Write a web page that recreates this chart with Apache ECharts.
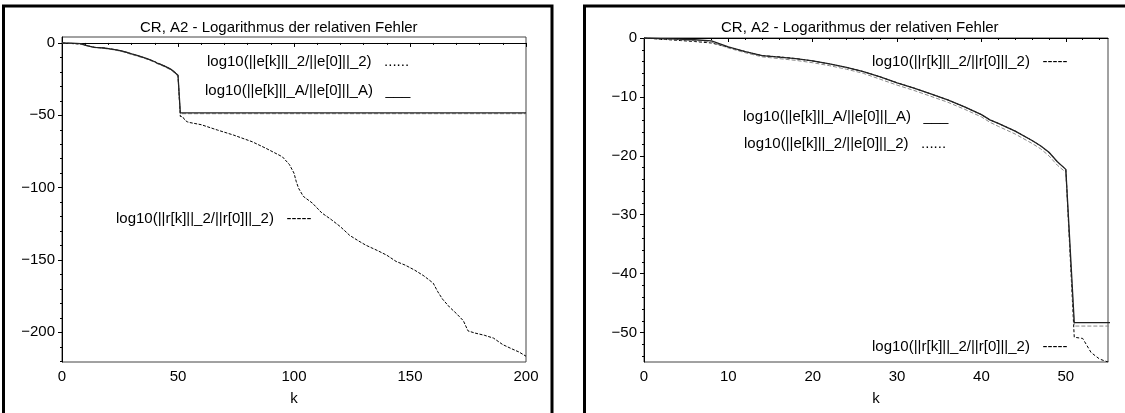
<!DOCTYPE html>
<html>
<head>
<meta charset="utf-8">
<script src="https://cdn.jsdelivr.net/npm/echarts@6/dist/echarts.min.js"></script>
<style>
  html, body { margin: 0; padding: 0; background: #fff; }
  #chart { width: 1125px; height: 413px; }
</style>
</head>
<body>
<div id="chart"></div>
<script>
// ---- data ----
const titleText = 'CR, A2 - Logarithmus der relativen Fehler';
const xName = 'k';

// error curves (A-norm and 2-norm), k values
const kE = [0,2,4,6,8,9,10,12,14,16,18,20,22,24,26,28,30,32,34,36,38,40,41,42,44,46,47,48,49,50,51,200];
const eA = [0,-0.1,-0.2,-0.3,-0.5,-1.0,-1.5,-2.3,-3.0,-3.25,-3.5,-3.9,-4.4,-5.0,-5.7,-6.6,-7.6,-8.5,-9.5,-10.5,-11.7,-13.0,-13.9,-14.5,-15.8,-17.4,-18.3,-19.4,-21.0,-22.3,-48.3,-48.3];
const e2 = [0,-0.15,-0.3,-0.45,-0.7,-1.2,-1.7,-2.5,-3.2,-3.5,-3.8,-4.2,-4.7,-5.3,-6.0,-7.0,-8.0,-8.9,-9.9,-10.9,-12.1,-13.4,-14.3,-15.0,-16.3,-17.9,-18.8,-20.0,-21.6,-22.8,-48.9,-48.9];

// residual curve
const kR = [0,2,4,6,8,9,10,12,14,16,18,20,22,24,26,28,30,32,34,36,38,40,41,42,44,46,47,48,49,50,51,52,53,54,55,60,67,74,82,88,95,98,100,101,102,104,108,112,116,120,124,128,131,136,140,144,148,152,156,160,162,164,167,170,173,175,178,182,186,190,194,197,200];
const rR = [0,-0.2,-0.4,-0.6,-0.85,-1.2,-1.6,-2.3,-3.0,-3.2,-3.5,-3.9,-4.4,-5.0,-5.7,-6.6,-7.6,-8.5,-9.5,-10.5,-11.7,-13.0,-13.9,-14.5,-15.8,-17.4,-18.3,-19.4,-21.0,-22.3,-50.8,-51.0,-53.4,-54.5,-55.0,-56.5,-60.2,-63.7,-68.3,-72.9,-78.7,-84,-90,-96,-100.5,-106,-110.8,-117.5,-122,-127,-133,-137,-139.8,-143.5,-146.7,-151,-153.6,-157,-161,-166,-172,-177,-182.5,-187,-192,-199,-200.5,-202,-204,-208.5,-211.5,-213.6,-216.5];

// legend labels
const legE2 = 'log10(||e[k]||_2/||e[0]||_2)   ......';
const legEA = 'log10(||e[k]||_A/||e[0]||_A)   ___';
const legR  = 'log10(||r[k]||_2/||r[0]||_2)   -----';

// tick values
const leftXMajor = [0,50,100,150,200];
const leftXMinor = [10,20,30,40,60,70,80,90,110,120,130,140,160,170,180,190];
const leftYMajor = [0,-50,-100,-150,-200];
const leftYMinor = [-10,-20,-30,-40,-60,-70,-80,-90,-110,-120,-130,-140,-160,-170,-180,-190,-210,-220];
const rightXMajor = [0,10,20,30,40,50];
const rightXMinor = [2,4,6,8,12,14,16,18,22,24,26,28,32,34,36,38,42,44,46,48,52,54];
const rightYMajor = [0,-10,-20,-30,-40,-50];
const rightYMinor = [-2,-4,-6,-8,-12,-14,-16,-18,-22,-24,-26,-28,-32,-34,-36,-38,-42,-44,-46,-48,-52,-54];

// ---- chart ----
const FONT = '"Liberation Sans", Arial, sans-serif';
const FS = 15;
const pairs = (ks, vs) => ks.map((k, i) => [k, vs[i]]);
const minusFmt = v => String(v).replace('-', '\u2212');

function xAxes(grid, min, max, major, minor, showName) {
  return [
    { type: 'value', gridIndex: grid, min: min, max: max, position: 'bottom',
      name: showName ? xName : '', nameLocation: 'middle', nameGap: 29,
      nameTextStyle: { fontSize: FS, color: '#000', fontFamily: FONT },
      axisLine: { show: true, lineStyle: { color: '#000', width: 1 } },
      axisTick: { show: true, customValues: major, length: 4, inside: false, lineStyle: { color: '#000' } },
      axisLabel: { show: true, customValues: major, margin: 7, fontSize: FS, color: '#000', fontFamily: FONT, formatter: minusFmt },
      splitLine: { show: false } },
    { type: 'value', gridIndex: grid, min: min, max: max, position: 'bottom',
      axisLine: { show: false },
      axisTick: { show: true, customValues: minor, length: 2, lineStyle: { color: '#000' } },
      axisLabel: { show: false }, splitLine: { show: false } }
  ];
}
function yAxes(grid, min, max, major, minor) {
  return [
    { type: 'value', gridIndex: grid, min: min, max: max, position: 'left',
      axisLine: { show: true, lineStyle: { color: '#000', width: 1 } },
      axisTick: { show: true, customValues: major, length: 4, lineStyle: { color: '#000' } },
      axisLabel: { show: true, customValues: major, margin: 7, fontSize: FS, color: '#000', fontFamily: FONT, formatter: minusFmt },
      splitLine: { show: false } },
    { type: 'value', gridIndex: grid, min: min, max: max, position: 'left', offset: 0,
      axisLine: { show: false },
      axisTick: { show: true, customValues: minor, length: 2, lineStyle: { color: '#000' } },
      axisLabel: { show: false }, splitLine: { show: false } }
  ];
}

const solid = { color: '#222', width: 1.3, type: 'solid' };
const dotted = { color: '#8a8a8a', width: 1, type: [4, 2] };
const dashedL = { color: '#000', width: 1, type: [3, 1.5] };
const dashedR = { color: '#000', width: 1, type: [3, 2] };

function ser(name, x, y, data, style) {
  return { name: name, type: 'line', xAxisIndex: x, yAxisIndex: y, data: data,
           showSymbol: false, symbol: 'none', lineStyle: style, clip: true,
           animation: false, silent: true, z: 2 };
}

function legendText(text, x, y) {
  return { type: 'text', x: x, y: y, silent: true, z: 10,
           style: { text: text, fill: '#000', font: FS + 'px ' + FONT, verticalAlign: 'middle' } };
}

const option = {
  backgroundColor: '#fff',
  animation: false,
  title: [
    { text: titleText, left: 140, top: 20, padding: 0,
      textStyle: { fontSize: FS, fontWeight: 'normal', color: '#000', fontFamily: FONT } },
    { text: titleText, left: 721, top: 20, padding: 0,
      textStyle: { fontSize: FS, fontWeight: 'normal', color: '#000', fontFamily: FONT } }
  ],
  grid: [
    { left: 62, top: 37, width: 464, height: 325, show: true, borderColor: '#444', borderWidth: 1, backgroundColor: 'transparent' },
    { left: 644, top: 38, width: 464, height: 324, show: true, borderColor: '#444', borderWidth: 1, backgroundColor: 'transparent' }
  ],
  xAxis: [].concat(
    xAxes(0, 0, 200, leftXMajor, leftXMinor, true),
    xAxes(1, 0, 55, rightXMajor, rightXMinor, true)
  ),
  yAxis: [].concat(
    yAxes(0, -220.5, 4.1, leftYMajor, leftYMinor),
    yAxes(1, -55, 0, rightYMajor, rightYMinor)
  ),
  series: [
    ser('r', 0, 0, pairs(kR, rR), dashedL),
    ser('e2', 0, 0, pairs(kE, e2), dotted),
    ser('eA', 0, 0, pairs(kE, eA), solid),
    ser('r', 2, 2, pairs(kR, rR), dashedR),
    ser('e2', 2, 2, pairs(kE, e2), dotted),
    ser('eA', 2, 2, pairs(kE, eA), solid)
  ],
  graphic: [
    { type: 'rect', silent: true, z: 20, shape: { x: 3.5, y: 6, width: 548.5, height: 420 },
      style: { fill: 'none', stroke: '#000', lineWidth: 3 } },
    { type: 'rect', silent: true, z: 20, shape: { x: 584.5, y: 6, width: 560, height: 420 },
      style: { fill: 'none', stroke: '#000', lineWidth: 3 } },
    legendText(legE2, 207, 62),
    legendText(legEA, 205, 91),
    legendText(legR, 116, 219),
    legendText(legR, 872, 62),
    legendText(legEA, 743, 117),
    legendText(legE2, 744, 144),
    legendText(legR, 872, 347)
  ]
};

const chart = echarts.init(document.getElementById('chart'), null, { renderer: 'canvas' });
chart.setOption(option);
</script>
</body>
</html>
